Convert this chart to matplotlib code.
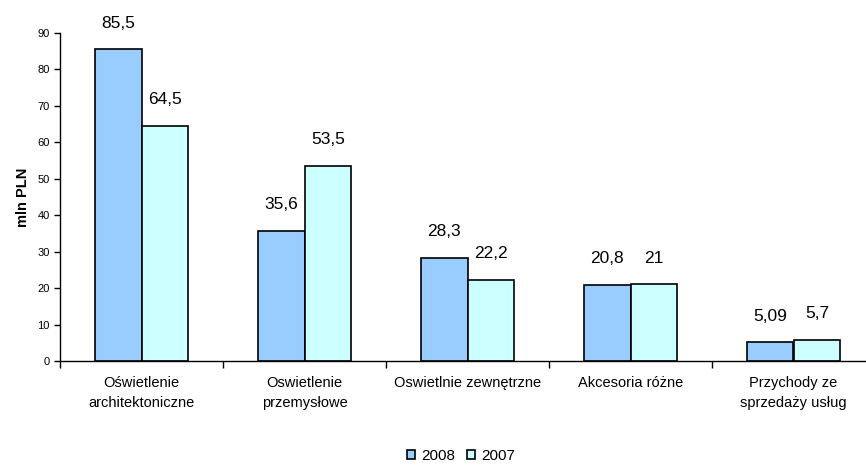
import matplotlib
matplotlib.use("Agg")
import matplotlib.pyplot as plt
import numpy as np

plt.rcParams['font.family'] = ['Liberation Sans', 'DejaVu Sans']

categories = ["Oświetlenie\narchitektoniczne", "Oswietlenie\nprzemysłowe",
              "Oswietlnie zewnętrzne", "Akcesoria różne", "Przychody ze\nsprzedaży usług"]
values_2008 = [85.5, 35.6, 28.3, 20.8, 5.09]
values_2007 = [64.5, 53.5, 22.2, 21.0, 5.7]
labels_2008 = ["85,5", "35,6", "28,3", "20,8", "5,09"]
labels_2007 = ["64,5", "53,5", "22,2", "21", "5,7"]

W, H = 866, 465
fig = plt.figure(figsize=(W / 100, H / 100), dpi=100)
ax_w = 815
ax = fig.add_axes([60 / W, 104 / H, ax_w / W, 328 / H])

x = np.arange(len(categories))
w = 0.288
b1 = ax.bar(x - w / 2, values_2008, w, color="#99CCFF", edgecolor="black", linewidth=1.2, label="2008")
b2 = ax.bar(x + w / 2, values_2007, w, color="#CCFFFF", edgecolor="black", linewidth=1.2, label="2007")

for bars, labs in ((b1, labels_2008), (b2, labels_2007)):
    for bar, lab in zip(bars, labs):
        ax.annotate(lab, (bar.get_x() + bar.get_width() / 2, bar.get_height()),
                    xytext=(0, 19), textcoords="offset points", ha="center", va="center",
                    fontsize=12.5)

ax.set_xlim(-0.5, len(categories) - 0.5)
ax.set_ylim(0, 90)
ax.set_yticks(range(0, 91, 10))
ax.tick_params(axis="y", labelsize=8, length=4, width=1, direction="out")
ax.set_ylabel("mln PLN", fontsize=10.5, fontweight="bold")
ax.yaxis.set_label_coords(-30 / ax_w, 0.5)

ax.set_xticks(np.arange(len(categories) + 1) - 0.5)
ax.set_xticklabels([])
ax.tick_params(axis="x", length=5, width=1, direction="out")
ax.set_xticks(x, minor=True)
ax.set_xticklabels(categories, minor=True, fontsize=10.5, linespacing=1.55)
ax.tick_params(axis="x", which="minor", length=0, pad=11)

for s in ("top", "right"):
    ax.spines[s].set_visible(False)
ax.spines["left"].set_linewidth(1)
ax.spines["bottom"].set_linewidth(1)

fig.legend(handles=[b1, b2], loc="center", bbox_to_anchor=(461 / W, 1 - 456 / H),
           ncol=2, frameon=False, fontsize=11, handlelength=0.5, handleheight=0.5,
           handletextpad=0.4, columnspacing=0.8, borderpad=0.1)

fig.savefig("out.png", dpi=100)
